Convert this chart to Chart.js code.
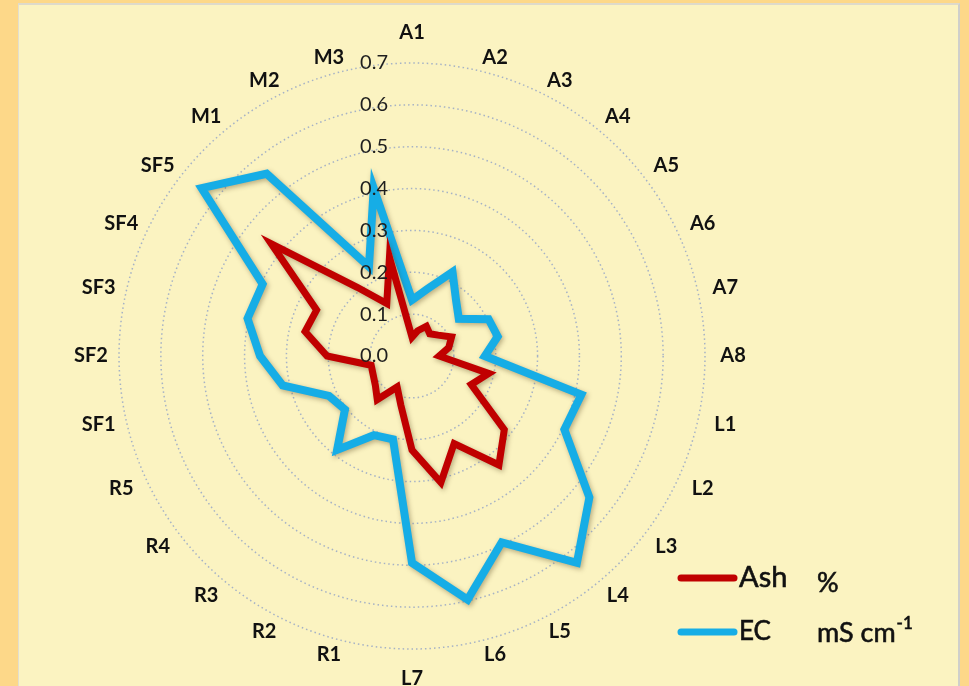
<!DOCTYPE html>
<html>
<head>
<meta charset="utf-8">
<script src="https://cdn.jsdelivr.net/npm/chart.js@4.4.0/dist/chart.umd.min.js"></script>
<style>
  html, body { margin: 0; padding: 0; width: 969px; height: 686px; overflow: hidden; background: #FDD889; }
  #panel { position: absolute; left: 18px; top: 3px; width: 942px; height: 700px; background: #FBF3C1;
           border-top: 2px solid #DEDACB; border-left: 1px solid #E2DECF; border-right: 2px solid #CFCFCB; box-sizing: border-box; }
  #wrap { position: absolute; left: 0; top: 0; width: 969px; height: 686px; }
</style>
</head>
<body>
<div id="panel"></div>
<div id="wrap"><canvas id="radar" width="969" height="686"></canvas></div>
<script>
// Sampling sites around the radar
const categories = ['A1','A2','A3','A4','A5','A6','A7','A8',
                    'L1','L2','L3','L4','L5','L6','L7',
                    'R1','R2','R3','R4','R5',
                    'SF1','SF2','SF3','SF4','SF5',
                    'M1','M2','M3'];

// Ash content (%)
const ashValues = [0.045, 0.062, 0.079, 0.068, 0.080, 0.105, 0.090, 0.065,
                   0.188, 0.157, 0.282, 0.333, 0.232, 0.310, 0.225,
                   0.120, 0.082, 0.133, 0.112, 0.103,
                   0.100, 0.203, 0.262, 0.253, 0.430,
                   0.210, 0.139, 0.242];

// Electrical conductivity (mS cm-1)
const ecValues = [0.134, 0.164, 0.223, 0.169, 0.143, 0.203, 0.210, 0.174,
                  0.415, 0.404, 0.542, 0.632, 0.494, 0.597, 0.494,
                  0.204, 0.210, 0.287, 0.205, 0.220,
                  0.317, 0.363, 0.403, 0.396, 0.643,
                  0.557, 0.237, 0.411];

const tickValues = [0.0, 0.1, 0.2, 0.3, 0.4, 0.5, 0.6, 0.7];
const tickLabels = ['0.0', '0.1', '0.2', '0.3', '0.4', '0.5', '0.6', '0.7'];

const seriesNames = ['Ash', 'EC'];
const seriesUnits = ['%', 'mS cm'];
const seriesUnitSup = ['', '-1'];
const seriesColors = ['#C00000', '#16ADE6'];

// Soft drop shadow under the series lines
const lineShadow = {
  id: 'lineShadow',
  beforeDatasetDraw(chart) {
    const ctx = chart.ctx;
    ctx.save();
    ctx.shadowColor = 'rgba(60,40,0,0.35)';
    ctx.shadowBlur = 5;
    ctx.shadowOffsetX = 1.5;
    ctx.shadowOffsetY = 2;
  },
  afterDatasetDraw(chart) {
    chart.ctx.restore();
  }
};

// Value labels left of the vertical axis and site labels around the rim
const radarText = {
  id: 'radarText',
  afterDatasetsDraw(chart) {
    const ctx = chart.ctx;
    const s = chart.scales.r;
    ctx.save();
    ctx.fillStyle = '#1E1E1E';
    ctx.font = '20px Lato';
    ctx.textAlign = 'right';
    ctx.textBaseline = 'middle';
    tickValues.forEach((v, i) => {
      const d = s.getDistanceFromCenterForValue(v);
      ctx.fillText(tickLabels[i], s.xCenter - 24, s.yCenter - d);
    });
    ctx.fillStyle = '#111';
    ctx.font = 'bold 20px Lato';
    ctx.textAlign = 'center';
    const n = categories.length;
    categories.forEach((c, i) => {
      const a = (i / n) * Math.PI * 2;
      const sx = Math.sin(a);
      const onAxis = Math.abs(sx) < 1e-6;
      const p = s.getPointPosition(i, s.drawingArea + (onAxis ? 30 : 13));
      const nudge = onAxis ? 0 : Math.sign(sx) * 15;
      ctx.fillText(c, p.x + nudge, p.y);
    });
    ctx.restore();
  }
};

// Legend with units, bottom right
const unitLegend = {
  id: 'unitLegend',
  afterDraw(chart) {
    const ctx = chart.ctx;
    const rows = [
      { y: 578, nameFont: '29px Lato', unitDy: 5 },
      { y: 632, nameFont: '26px Lato', unitDy: 1 }
    ];
    ctx.save();
    rows.forEach((row, i) => {
      ctx.strokeStyle = seriesColors[i];
      ctx.lineWidth = 7;
      ctx.lineCap = 'round';
      ctx.beginPath();
      ctx.moveTo(681, row.y);
      ctx.lineTo(734, row.y);
      ctx.stroke();
      ctx.fillStyle = '#111';
      ctx.strokeStyle = '#111';
      ctx.lineWidth = 0.6;
      ctx.textBaseline = 'middle';
      ctx.textAlign = 'left';
      ctx.font = row.nameFont;
      ctx.fillText(seriesNames[i], 739, row.y);
      ctx.strokeText(seriesNames[i], 739, row.y);
      ctx.font = '27px Lato';
      ctx.fillText(seriesUnits[i], 817, row.y + row.unitDy);
      ctx.strokeText(seriesUnits[i], 817, row.y + row.unitDy);
      if (seriesUnitSup[i]) {
        const w = ctx.measureText(seriesUnits[i]).width;
        ctx.font = '17px Lato';
        ctx.fillText(seriesUnitSup[i], 817 + w + 1, row.y - 8);
        ctx.strokeText(seriesUnitSup[i], 817 + w + 1, row.y - 8);
      }
    });
    ctx.restore();
  }
};

new Chart(document.getElementById('radar'), {
  type: 'radar',
  data: {
    labels: categories,
    datasets: [
      { label: seriesNames[0], data: ashValues, borderColor: seriesColors[0], borderWidth: 7,
        fill: false, pointRadius: 0, tension: 0, borderJoinStyle: 'miter' },
      { label: seriesNames[1], data: ecValues, borderColor: seriesColors[1], borderWidth: 8,
        fill: false, pointRadius: 0, tension: 0, borderJoinStyle: 'miter' }
    ]
  },
  options: {
    responsive: false,
    devicePixelRatio: 1,
    animation: false,
    layout: { padding: { left: 119, right: 264, top: 63, bottom: 37 } },
    plugins: { legend: { display: false }, tooltip: { enabled: false } },
    scales: {
      r: {
        min: 0,
        max: 0.7,
        startAngle: 0,
        ticks: { display: false, stepSize: 0.1 },
        grid: { circular: true, color: 'rgba(160,174,198,0.95)', lineWidth: 1.5 },
        border: { dash: [1.5, 3] },
        angleLines: { display: false },
        pointLabels: { display: false }
      }
    }
  },
  plugins: [lineShadow, radarText, unitLegend]
});
</script>
</body>
</html>
